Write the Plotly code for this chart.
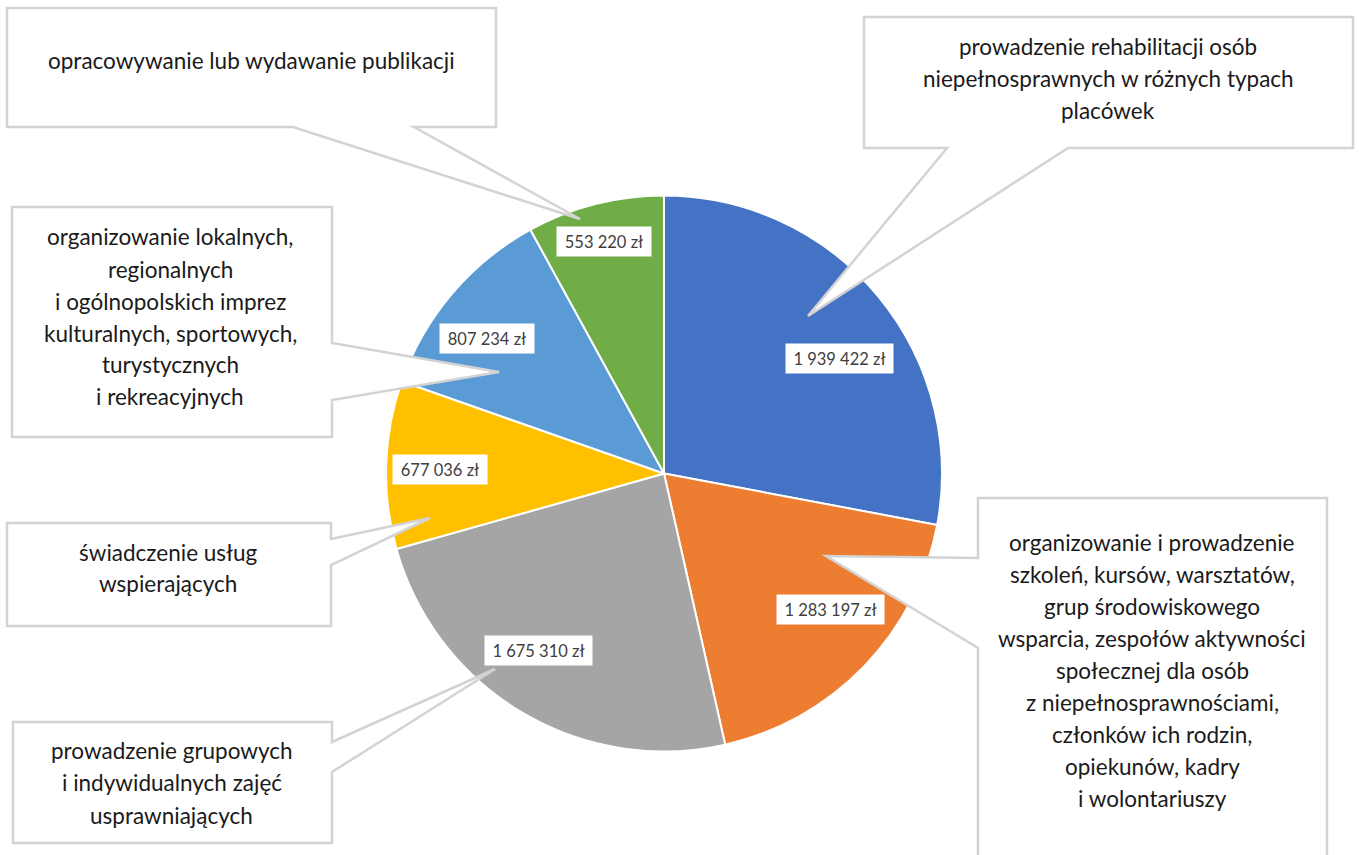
import plotly.graph_objects as go

W, H = 1359, 855

categories = [
    "prowadzenie rehabilitacji osób niepełnosprawnych w różnych typach placówek",
    "organizowanie i prowadzenie szkoleń, kursów, warsztatów, grup środowiskowego wsparcia, zespołów aktywności społecznej dla osób z niepełnosprawnościami, członków ich rodzin, opiekunów, kadry i wolontariuszy",
    "prowadzenie grupowych i indywidualnych zajęć usprawniających",
    "świadczenie usług wspierających",
    "organizowanie lokalnych, regionalnych i ogólnopolskich imprez kulturalnych, sportowych, turystycznych i rekreacyjnych",
    "opracowywanie lub wydawanie publikacji",
]
values = [1939422, 1283197, 1675310, 677036, 807234, 553220]
colors = ["#4472C4", "#ED7D31", "#A5A5A5", "#FFC000", "#5B9BD5", "#70AD47"]

callout_lines = [
    ["prowadzenie rehabilitacji osób", "niepełnosprawnych w różnych typach", "placówek"],
    ["organizowanie i prowadzenie", "szkoleń, kursów, warsztatów,", "grup środowiskowego",
     "wsparcia, zespołów aktywności", "społecznej dla osób", "z niepełnosprawnościami,",
     "członków ich rodzin,", "opiekunów, kadry", "i wolontariuszy"],
    ["prowadzenie grupowych", "i indywidualnych zajęć", "usprawniających"],
    ["świadczenie usług", "wspierających"],
    ["organizowanie lokalnych,", "regionalnych", "i ogólnopolskich imprez",
     "kulturalnych, sportowych,", "turystycznych", "i rekreacyjnych"],
    ["opracowywanie lub wydawanie publikacji"],
]

# layout (pixel) positions
cx, cy, r = 664, 473.5, 278
label_pos = [(839.5, 358.5), (830, 609.5), (538, 650), (440, 469), (487, 338), (604, 241.5)]
callout_text_pos = [(1108, 46, 32), (1152, 542, 32.0), (172, 750, 32.5), (168, 552, 31), (170, 237, 32), (251, 60, 0)]
callout_paths = [
    [(864, 17), (1353, 17), (1353, 148), (1068, 148), (808, 316), (947, 148), (864, 148)],
    [(978, 498), (1327, 498), (1327, 880), (978, 880), (978, 648), (826, 556), (978, 558)],
    [(13, 722), (332, 722), (332, 742), (495, 669), (332, 772), (332, 843), (13, 843)],
    [(7, 523), (331, 523), (331, 539), (430, 518), (331, 565), (331, 626), (7, 626)],
    [(12, 207), (332, 207), (332, 343), (499, 372), (332, 400), (332, 437), (12, 437)],
    [(7, 8), (496, 8), (496, 127), (414, 127), (580, 219), (293, 127), (7, 127)],
]

def px(x):
    return x / W

def py(y):
    return 1 - y / H

def fmt(v):
    return f"{v:,}".replace(",", " ") + " zł"

fig = go.Figure()
fig.add_trace(go.Pie(
    labels=categories,
    values=values,
    sort=False,
    direction="clockwise",
    rotation=0,
    marker=dict(colors=colors, line=dict(color="white", width=2)),
    textinfo="none",
    hoverinfo="label+value",
    showlegend=False,
    domain=dict(x=[px(cx - r), px(cx + r)], y=[py(cy + r), py(cy - r)]),
))

shapes = []
for pts in callout_paths:
    d = "M " + " L ".join(f"{px(x):.5f},{py(y):.5f}" for x, y in pts) + " Z"
    shapes.append(dict(type="path", path=d, xref="paper", yref="paper",
                       fillcolor="white", line=dict(color="#D3D3D3", width=2.5),
                       layer="above"))

annotations = []
FONT = "Lato"
for lines, (tx, ty, dy) in zip(callout_lines, callout_text_pos):
    for i, line in enumerate(lines):
        annotations.append(dict(
            x=px(tx), y=py(ty + i * dy), xref="paper", yref="paper",
            text=line, showarrow=False, xanchor="center", yanchor="middle",
            font=dict(family=FONT, size=22.5, color="#1a1a1a"),
        ))

for v, (lx, ly) in zip(values, label_pos):
    t = fmt(v)
    annotations.append(dict(
        x=px(lx), y=py(ly), xref="paper", yref="paper",
        text=t, showarrow=False, xanchor="center", yanchor="middle",
        bgcolor="white", borderpad=0, width=6.5 * len(t) + 29, height=29,
        font=dict(family=FONT, size=16.5, color="#404040"),
    ))

fig.update_layout(
    width=W, height=H,
    margin=dict(l=0, r=0, t=0, b=0),
    paper_bgcolor="white", plot_bgcolor="white",
    shapes=shapes, annotations=annotations,
)

fig.write_html("out.html", config={"displayModeBar": False},
               post_script="document.body.style.margin='0';document.body.style.overflow='hidden';")
